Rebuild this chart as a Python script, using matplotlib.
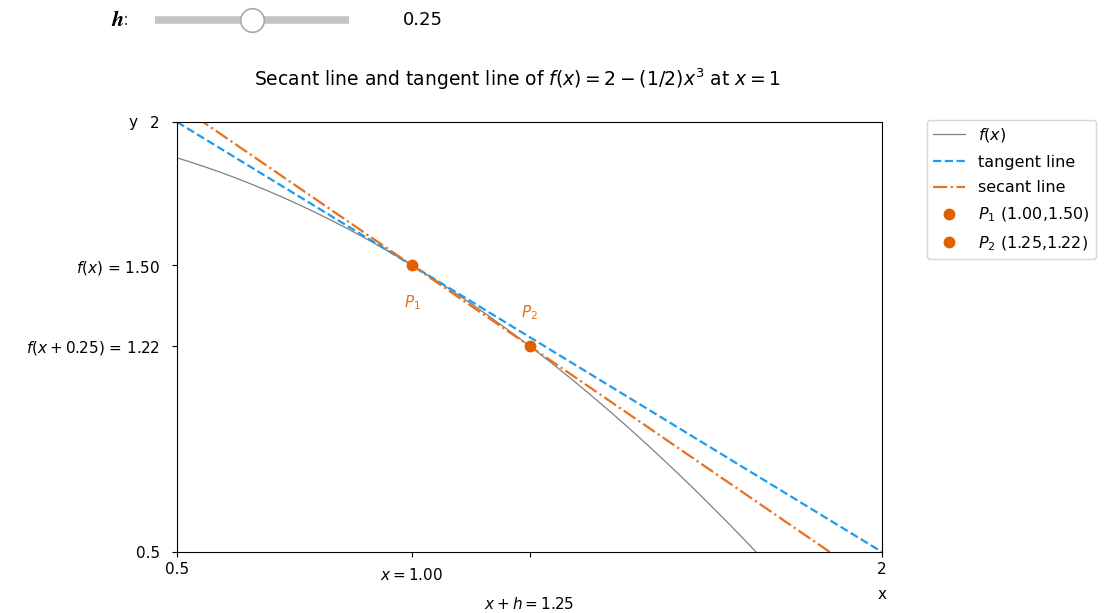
import numpy as np
import matplotlib.pyplot as plt
from matplotlib.transforms import ScaledTranslation

# slider state
h_min, h_max = 0.0, 0.5
h = 0.25

# point of tangency and the second point of the secant
x0 = 1.00
p1 = (1.00, 1.50)
p2 = (1.25, 1.22)
tangent_slope = -1.0

xlim = (0.5, 2.0)
ylim = (0.5, 2.0)
xticks = [0.5, 1.00, 1.25, 2.0]
xticklabels = ['0.5', '$x = 1.00$', '$x + h = 1.25$', '2']
yticks = [0.5, 1.22, 1.50, 2.0]
yticklabels = ['0.5', '$f(x + 0.25)$ = 1.22', '$f(x)$ = 1.50', '2']


def f(x):
    return 2 - 0.5 * x ** 2


fig = plt.figure(figsize=(11.09, 6.13), dpi=100)

# slider widget drawn on its own axes
sax = fig.add_axes([155 / 1109, (613 - 32) / 613, 194 / 1109, 24 / 613])
sax.set_xlim(h_min, h_max)
sax.set_ylim(-1, 1)
sax.axis('off')
sax.plot([h_min, h_max], [0, 0], color='#c4c4c4', lw=5.5, solid_capstyle='butt')
sax.plot([h], [0], 'o', ms=17, mfc='white', mec='#a8a8a8', mew=1.2, clip_on=False)
fig.text(111 / 1109, 1 - 20 / 613, r'$\boldsymbol{h}$', fontsize=16, va='center',
         math_fontfamily='cm')
fig.text(123 / 1109, 1 - 20 / 613, ':', fontsize=13, va='center', color='#555555')
fig.text(403 / 1109, 1 - 20 / 613, f'{h:.2f}', fontsize=13, va='center')

ax = fig.add_axes([177 / 1109, 61 / 613, 705 / 1109, 430 / 613])
xs = np.linspace(xlim[0], xlim[1], 300)
secant_slope = (f(x0 + h) - f(x0)) / h

ax.plot(xs, f(xs), color='gray', lw=0.9, label='$f(x)$')
ax.plot(xs, f(x0) + tangent_slope * (xs - x0), '--', color='#1e9bf0', lw=1.6,
        label='tangent line')
ax.plot(xs, f(x0) + secant_slope * (xs - x0), '-.', color='#e8711c', lw=1.6,
        label='secant line')
ax.plot(*p1, 'o', color='#e06000', ms=7.5,
        label=f'$P_1$ ({p1[0]:.2f},{p1[1]:.2f})')
ax.plot(p2[0], f(x0 + h), 'o', color='#e06000', ms=7.5,
        label=f'$P_2$ ({p2[0]:.2f},{p2[1]:.2f})')
ax.text(p1[0], p1[1] - 0.13, '$P_1$', color='#e8711c', ha='center', va='center', fontsize=11)
ax.text(p2[0], f(x0 + h) + 0.115, '$P_2$', color='#e8711c', ha='center', va='center', fontsize=11)

ax.set_xlim(*xlim)
ax.set_ylim(*ylim)
ax.set_xticks(xticks)
ax.set_xticklabels(xticklabels, fontsize=11)
ax.set_yticks(yticks)
ax.set_yticklabels(yticklabels, fontsize=11)
ax.tick_params(axis='x', pad=4)
ax.tick_params(axis='y', pad=9)
# push the two mathtext x labels down like in the original
for lab, dy in zip(ax.get_xticklabels()[1:3], [5, 34]):
    lab.set_transform(lab.get_transform() + ScaledTranslation(0, -dy / 100, fig.dpi_scale_trans))

ax.text(1.0, -0.098, 'x', transform=ax.transAxes, ha='center', va='center', fontsize=11)
ax.text(-0.063, 1.0, 'y', transform=ax.transAxes, ha='center', va='center', fontsize=11)
ax.set_title('Secant line and tangent line of $f(x) = 2 - (1/2)x^3$ at $x = 1$',
             fontsize=13.5, pad=26, x=0.483)

ax.legend(loc='upper left', bbox_to_anchor=(927 / 1109, 1 - 120 / 613),
          bbox_transform=fig.transFigure, fontsize=11.5, borderaxespad=0,
          labelspacing=0.65)

plt.savefig('out.png')
